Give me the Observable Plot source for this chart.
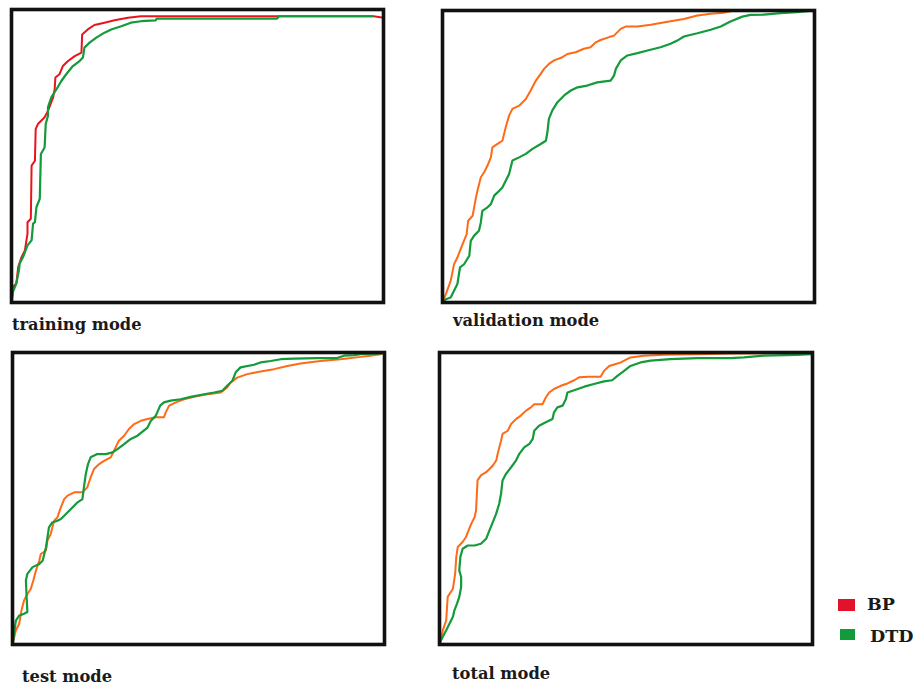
<!DOCTYPE html>
<html>
<head>
<meta charset="utf-8">
<script src="https://cdn.jsdelivr.net/npm/d3@7"></script>
<script src="https://cdn.jsdelivr.net/npm/@observablehq/plot@0.6"></script>
<style>
  html, body { margin: 0; padding: 0; background: #fff; }
  #wrap { position: relative; width: 917px; height: 687px; overflow: hidden; background: #fff; }
  .panel { position: absolute; }
  .lbl { position: absolute; font-family: "DejaVu Serif", serif; font-weight: bold; font-size: 16.3px; line-height: 1; color: #1a1a1a; white-space: nowrap; }
  .leg { position: absolute; font-family: "DejaVu Serif", serif; font-weight: bold; font-size: 17.5px; line-height: 1; color: #1a1a1a; white-space: nowrap; }
  .sw { position: absolute; }
</style>
</head>
<body>
<div id="wrap"></div>
<script>
// ---- data: [false positive rate, true positive rate] ----
const trainingBP = [[0,0],[0.004,0.053],[0.013,0.065],[0.018,0.121],[0.027,0.155],[0.036,0.178],[0.043,0.235],[0.043,0.274],[0.052,0.286],[0.054,0.467],[0.063,0.484],[0.065,0.592],[0.071,0.609],[0.089,0.632],[0.098,0.654],[0.105,0.677],[0.112,0.700],[0.116,0.728],[0.118,0.768],[0.129,0.779],[0.138,0.807],[0.152,0.824],[0.170,0.841],[0.188,0.853],[0.190,0.915],[0.205,0.932],[0.223,0.947],[0.250,0.955],[0.277,0.963],[0.313,0.972],[0.348,0.977],[0.714,0.977],[0.973,0.977],[1.0,0.972]];
const trainingDTD = [[0,0],[0.004,0.036],[0.013,0.065],[0.020,0.110],[0.022,0.133],[0.031,0.155],[0.043,0.195],[0.054,0.212],[0.058,0.269],[0.063,0.274],[0.067,0.325],[0.076,0.354],[0.079,0.507],[0.089,0.529],[0.092,0.609],[0.098,0.637],[0.098,0.666],[0.107,0.700],[0.121,0.728],[0.134,0.756],[0.147,0.779],[0.165,0.807],[0.183,0.824],[0.192,0.836],[0.196,0.870],[0.210,0.887],[0.228,0.904],[0.250,0.921],[0.268,0.932],[0.295,0.943],[0.321,0.955],[0.348,0.960],[0.388,0.963],[0.390,0.969],[0.714,0.969],[0.719,0.977],[0.969,0.977]];

const validationBP = [[0,0],[0.009,0.029],[0.022,0.074],[0.031,0.131],[0.040,0.154],[0.054,0.200],[0.065,0.234],[0.069,0.280],[0.081,0.297],[0.090,0.360],[0.094,0.383],[0.103,0.429],[0.112,0.446],[0.121,0.469],[0.130,0.497],[0.134,0.531],[0.148,0.543],[0.161,0.554],[0.170,0.600],[0.179,0.640],[0.188,0.663],[0.206,0.674],[0.224,0.697],[0.237,0.726],[0.251,0.760],[0.264,0.783],[0.273,0.800],[0.286,0.817],[0.300,0.829],[0.322,0.840],[0.336,0.851],[0.358,0.857],[0.380,0.869],[0.398,0.874],[0.412,0.891],[0.425,0.899],[0.448,0.909],[0.461,0.914],[0.479,0.937],[0.492,0.945],[0.524,0.945],[0.560,0.951],[0.586,0.957],[0.613,0.963],[0.649,0.971],[0.685,0.983],[0.721,0.989],[0.756,0.992],[0.783,1.0],[0.864,1.0],[0.971,1.0],[1.0,0.997]];
const validationDTD = [[0,0],[0.009,0.011],[0.022,0.017],[0.031,0.040],[0.040,0.063],[0.047,0.120],[0.058,0.131],[0.072,0.160],[0.076,0.211],[0.085,0.229],[0.098,0.246],[0.103,0.274],[0.107,0.314],[0.121,0.326],[0.130,0.337],[0.139,0.366],[0.148,0.377],[0.161,0.394],[0.170,0.417],[0.179,0.440],[0.188,0.486],[0.206,0.497],[0.224,0.509],[0.242,0.526],[0.264,0.543],[0.278,0.554],[0.282,0.583],[0.286,0.629],[0.295,0.657],[0.309,0.686],[0.327,0.709],[0.345,0.726],[0.363,0.737],[0.389,0.743],[0.416,0.754],[0.452,0.760],[0.461,0.777],[0.466,0.800],[0.479,0.829],[0.497,0.846],[0.524,0.854],[0.551,0.863],[0.586,0.874],[0.613,0.886],[0.631,0.897],[0.649,0.911],[0.685,0.922],[0.721,0.934],[0.748,0.945],[0.774,0.962],[0.806,0.979],[0.828,0.985],[0.864,0.986],[0.909,0.991],[0.953,0.994],[1.0,1.0]];

const testBP = [[0,0],[0.009,0.048],[0.018,0.071],[0.024,0.116],[0.031,0.151],[0.040,0.173],[0.049,0.190],[0.056,0.219],[0.063,0.253],[0.072,0.287],[0.076,0.310],[0.090,0.322],[0.094,0.356],[0.103,0.379],[0.107,0.401],[0.112,0.424],[0.121,0.436],[0.130,0.470],[0.139,0.498],[0.148,0.510],[0.166,0.521],[0.188,0.521],[0.201,0.538],[0.210,0.572],[0.219,0.601],[0.233,0.618],[0.246,0.629],[0.264,0.641],[0.273,0.664],[0.286,0.698],[0.300,0.715],[0.313,0.738],[0.327,0.755],[0.345,0.766],[0.363,0.772],[0.385,0.778],[0.407,0.778],[0.412,0.795],[0.421,0.818],[0.439,0.829],[0.461,0.840],[0.488,0.848],[0.524,0.857],[0.560,0.863],[0.577,0.880],[0.586,0.897],[0.604,0.914],[0.631,0.926],[0.667,0.935],[0.703,0.943],[0.739,0.954],[0.774,0.962],[0.828,0.971],[0.882,0.977],[0.936,0.985],[0.962,0.989],[0.989,0.994],[1.0,1.0]];
const testDTD = [[0,0],[0.004,0.036],[0.009,0.082],[0.018,0.099],[0.031,0.105],[0.040,0.111],[0.038,0.162],[0.036,0.219],[0.040,0.242],[0.054,0.265],[0.072,0.276],[0.081,0.287],[0.090,0.333],[0.094,0.367],[0.098,0.401],[0.107,0.418],[0.121,0.424],[0.130,0.430],[0.139,0.441],[0.157,0.464],[0.175,0.487],[0.188,0.498],[0.192,0.538],[0.197,0.584],[0.203,0.618],[0.210,0.641],[0.228,0.652],[0.251,0.652],[0.269,0.658],[0.282,0.669],[0.300,0.686],[0.318,0.704],[0.336,0.715],[0.363,0.743],[0.372,0.766],[0.385,0.783],[0.397,0.818],[0.407,0.829],[0.425,0.835],[0.452,0.840],[0.479,0.848],[0.515,0.857],[0.542,0.863],[0.564,0.869],[0.577,0.886],[0.591,0.903],[0.600,0.932],[0.613,0.949],[0.649,0.958],[0.667,0.966],[0.694,0.971],[0.721,0.977],[0.756,0.979],[0.819,0.981],[0.873,0.981],[0.891,0.989],[0.918,0.991],[0.936,0.994],[0.989,0.997]];

const totalBP = [[0,0],[0.009,0.049],[0.018,0.083],[0.022,0.163],[0.036,0.191],[0.042,0.243],[0.045,0.300],[0.049,0.334],[0.062,0.351],[0.071,0.368],[0.076,0.385],[0.085,0.413],[0.094,0.436],[0.098,0.459],[0.102,0.562],[0.111,0.579],[0.125,0.590],[0.134,0.601],[0.143,0.613],[0.152,0.630],[0.156,0.653],[0.165,0.698],[0.169,0.721],[0.183,0.732],[0.192,0.755],[0.205,0.772],[0.218,0.784],[0.232,0.801],[0.245,0.812],[0.254,0.823],[0.276,0.823],[0.285,0.846],[0.294,0.863],[0.307,0.875],[0.325,0.886],[0.343,0.894],[0.361,0.905],[0.374,0.915],[0.401,0.917],[0.432,0.917],[0.441,0.937],[0.455,0.954],[0.486,0.966],[0.512,0.983],[0.548,0.989],[0.602,0.992],[0.691,0.994],[0.780,0.997],[0.914,0.998],[0.994,0.998]];
const totalDTD = [[0,0],[0.004,0.015],[0.018,0.049],[0.027,0.072],[0.036,0.095],[0.040,0.117],[0.047,0.140],[0.053,0.163],[0.058,0.197],[0.058,0.231],[0.053,0.254],[0.056,0.300],[0.062,0.328],[0.076,0.339],[0.094,0.339],[0.111,0.345],[0.125,0.362],[0.134,0.391],[0.143,0.419],[0.152,0.448],[0.160,0.482],[0.165,0.516],[0.169,0.562],[0.178,0.584],[0.192,0.607],[0.205,0.630],[0.214,0.653],[0.227,0.675],[0.241,0.687],[0.250,0.704],[0.254,0.732],[0.267,0.749],[0.285,0.761],[0.303,0.772],[0.307,0.795],[0.316,0.812],[0.330,0.818],[0.339,0.841],[0.343,0.863],[0.361,0.871],[0.388,0.883],[0.414,0.892],[0.441,0.901],[0.463,0.905],[0.477,0.920],[0.495,0.937],[0.512,0.954],[0.539,0.966],[0.566,0.972],[0.619,0.977],[0.691,0.981],[0.780,0.981],[0.816,0.983],[0.869,0.989],[0.958,0.992],[0.998,0.994]];

const panelNames = ["training mode", "validation mode", "test mode", "total mode"];
const seriesNames = ["BP", "DTD"];

// ---- styling / layout ----
const RED = "#e8141c", ORANGE = "#ff6a17", GREEN = "#139a3a", LEGEND_RED = "#e3122b";
const M = 8;
const panels = [
  {name: panelNames[0], bp: trainingBP, dtd: trainingDTD, bpColor: RED, box: [11, 9, 383, 302], label: [12, 331]},
  {name: panelNames[1], bp: validationBP, dtd: validationDTD, bpColor: ORANGE, box: [442, 10, 814, 302], label: [453, 327]},
  {name: panelNames[2], bp: testBP, dtd: testDTD, bpColor: ORANGE, box: [12, 352, 384, 644], label: [22, 683]},
  {name: panelNames[3], bp: totalBP, dtd: totalDTD, bpColor: ORANGE, box: [439, 352, 812, 644], label: [452, 680]}
];

const wrap = document.getElementById("wrap");
const clip = v => Math.max(0, Math.min(1, v));

for (const p of panels) {
  const [x0, y0, x1, y1] = p.box;
  const w = x1 - x0, h = y1 - y0;
  const svg = Plot.plot({
    width: w + 2 * M,
    height: h + 2 * M,
    margin: M,
    style: {background: "transparent", overflow: "visible"},
    x: {domain: [0, 1], axis: null},
    y: {domain: [0, 1], axis: null},
    marks: [
      Plot.line(p.bp, {x: d => clip(d[0]), y: d => clip(d[1]), stroke: p.bpColor, strokeWidth: 2, strokeLinejoin: "miter"}),
      Plot.line(p.dtd, {x: d => clip(d[0]), y: d => clip(d[1]), stroke: GREEN, strokeWidth: 2.2, strokeLinejoin: "miter"}),
      Plot.frame({stroke: "#111", strokeWidth: 3.6})
    ]
  });
  svg.classList.add("panel");
  svg.style.left = (x0 - M) + "px";
  svg.style.top = (y0 - M) + "px";
  wrap.appendChild(svg);

  const lbl = document.createElement("div");
  lbl.className = "lbl";
  lbl.textContent = p.name;
  lbl.style.left = p.label[0] + "px";
  lbl.style.top = (p.label[1] - 13.8) + "px";
  wrap.appendChild(lbl);
}

// legend
const legendItems = [
  {name: seriesNames[0], color: LEGEND_RED, sw: [838, 599, 17, 12], text: [867, 611]},
  {name: seriesNames[1], color: GREEN, sw: [840, 629, 15, 11], text: [870, 643]}
];
for (const it of legendItems) {
  const s = document.createElement("div");
  s.className = "sw";
  s.style.left = it.sw[0] + "px"; s.style.top = it.sw[1] + "px";
  s.style.width = it.sw[2] + "px"; s.style.height = it.sw[3] + "px";
  s.style.background = it.color;
  wrap.appendChild(s);
  const t = document.createElement("div");
  t.className = "leg";
  t.textContent = it.name;
  t.style.left = it.text[0] + "px";
  t.style.top = (it.text[1] - 14.8) + "px";
  wrap.appendChild(t);
}
</script>
</body>
</html>
